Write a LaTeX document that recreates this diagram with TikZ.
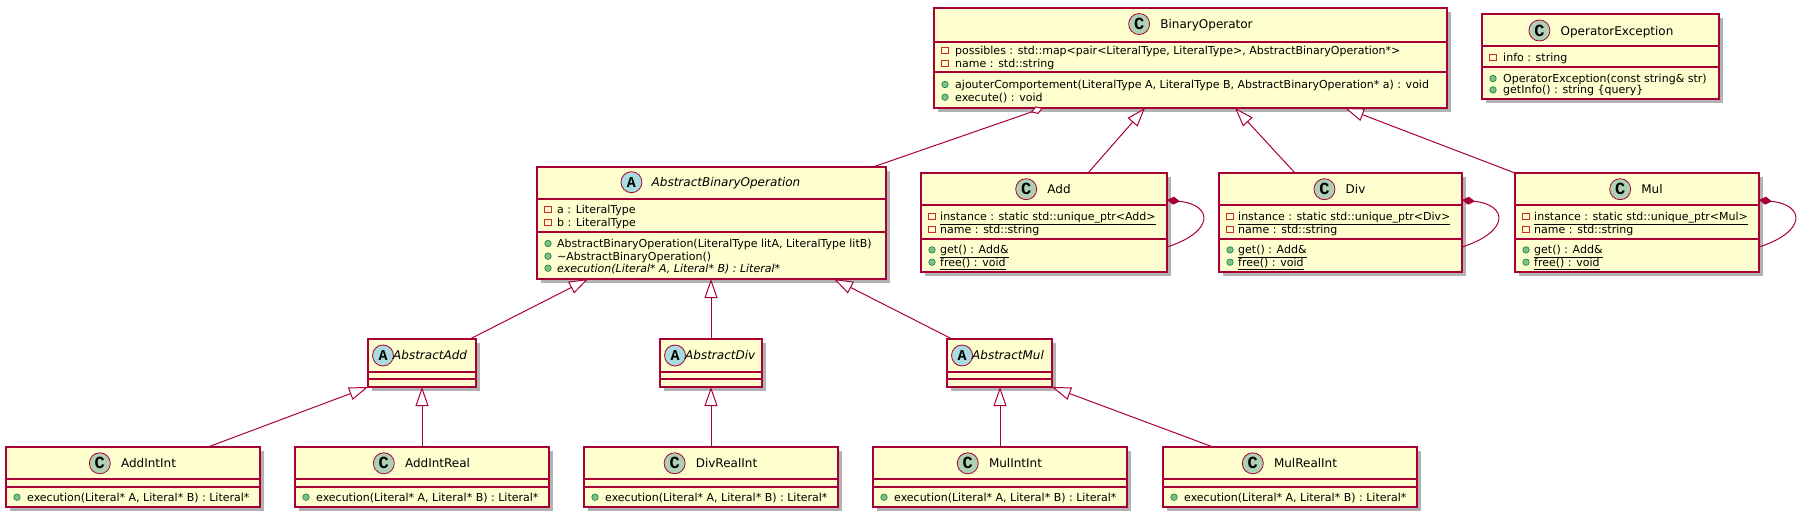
\documentclass[tikz,border=0pt]{standalone}
\usepackage{fontspec}
\setmainfont{DejaVu Sans}
\newfontfamily\spotfont{Liberation Mono}
\usepackage{tikz}
\usetikzlibrary{arrows.meta,shadows}
\definecolor{umlfill}{HTML}{FEFECE}
\definecolor{umlred}{HTML}{A80036}
\definecolor{umlcls}{HTML}{ADD1B2}
\definecolor{umlabs}{HTML}{A9DCDF}
\definecolor{umlpriv}{HTML}{C82930}
\definecolor{umlpub}{HTML}{84BE84}
\definecolor{umlpubline}{HTML}{038048}

\begin{document}
\begin{tikzpicture}[x=1pt,y=-1pt,
	cls/.style={rectangle,draw=umlred,fill=umlfill,line width=1.5pt,inner sep=0pt,outer sep=0pt,
		drop shadow={shadow xshift=4pt,shadow yshift=-4pt,opacity=0.3,fill=black}},
	sep/.style={draw=umlred,line width=1.5pt},
	ttl/.style={font=\fontsize{12}{14}\selectfont,inner sep=0pt,anchor=base},
	ittl/.style={font=\fontsize{12}{14}\selectfont\itshape,inner sep=0pt,anchor=base},
	mem/.style={font=\fontsize{11}{13}\selectfont,inner sep=0pt,anchor=base west},
	ccls/.style={circle,draw=umlred,fill=umlcls,line width=0.8pt,minimum size=21pt,inner sep=0pt,
		font=\spotfont\bfseries\fontsize{17}{17}\selectfont},
	cabs/.style={ccls,fill=umlabs,font=\spotfont\bfseries\fontsize{15}{15}\selectfont},
	priv/.style={rectangle,draw=umlpriv,line width=0.8pt,minimum size=6.5pt,inner sep=0pt},
	pub/.style={circle,draw=umlpubline,fill=umlpub,line width=0.6pt,minimum size=6.5pt,inner sep=0pt},
	inh/.style={draw=umlred,line width=1pt,-{Triangle[length=19pt,width=13pt,fill=white]}},
	agg/.style={draw=umlred,line width=1pt,-{Diamond[length=13pt,width=8pt,fill=white]}},
	comp/.style={draw=umlred,line width=1pt,-{Diamond[length=13pt,width=8pt,fill=umlred]}}]
	\useasboundingbox (0,0) rectangle (1804,517);
	%% BinaryOperator
	\node[cls,minimum width=513pt,minimum height=100pt] (bo) at (1190.5,58) {};
	\draw[sep] (bo.west |- 0,42) -- (bo.east |- 0,42);
	\draw[sep] (bo.west |- 0,72) -- (bo.east |- 0,72);
	\node[ttl] (bo-t) at (1206.5,28.5) {BinaryOperator};
	\node[ccls] (bo-c) at ([xshift=-21pt,yshift=4.5pt]bo-t.base west) {C};
	\node[mem] (bo-a1) at (955,54) {possibles : std::map<pair<LiteralType, LiteralType>, AbstractBinaryOperation*>};
	\node[mem] (bo-a2) at (955,67) {name : std::string};
	\node[mem] (bo-m1) at (955,88.3) {ajouterComportement(LiteralType A, LiteralType B, AbstractBinaryOperation* a) : void};
	\node[mem] (bo-m2) at (955,101) {execute() : void};
	\foreach \n in {a1,a2} \node[priv] (bo-i\n) at ([xshift=-10pt,yshift=3.8pt]bo-\n.base west) {};
	\foreach \n in {m1,m2} \node[pub] (bo-i\n) at ([xshift=-10pt,yshift=3.8pt]bo-\n.base west) {};
	%% OperatorException
	\node[cls,minimum width=237pt,minimum height=85pt] (oe) at (1600.5,56.5) {};
	\draw[sep] (oe.west |- 0,46) -- (oe.east |- 0,46);
	\draw[sep] (oe.west |- 0,67) -- (oe.east |- 0,67);
	\node[ttl] (oe-t) at (1617,35) {OperatorException};
	\node[ccls] (oe-c) at ([xshift=-21pt,yshift=4.5pt]oe-t.base west) {C};
	\node[mem] (oe-a1) at (1503,61) {info : string};
	\node[mem] (oe-m1) at (1503,82.3) {OperatorException(const string\& str)};
	\node[mem] (oe-m2) at (1503,93.7) {getInfo() : string \{query\}};
	\node[priv] (oe-ia1) at ([xshift=-10pt,yshift=3.8pt]oe-a1.base west) {};
	\foreach \n in {m1,m2} \node[pub] (oe-i\n) at ([xshift=-10pt,yshift=3.8pt]oe-\n.base west) {};
	%% AbstractBinaryOperation
	\node[cls,minimum width=349pt,minimum height=112pt] (abo) at (711.5,223) {};
	\draw[sep] (abo.west |- 0,199) -- (abo.east |- 0,199);
	\draw[sep] (abo.west |- 0,232) -- (abo.east |- 0,232);
	\node[ittl] (abo-t) at (726,186.7) {AbstractBinaryOperation};
	\node[cabs] (abo-c) at ([xshift=-20pt,yshift=4.5pt]abo-t.base west) {A};
	\node[mem] (abo-a1) at (557,213.3) {a : LiteralType};
	\node[mem] (abo-a2) at (557,226) {b : LiteralType};
	\node[mem] (abo-m1) at (557,247.3) {AbstractBinaryOperation(LiteralType litA, LiteralType litB)};
	\node[mem] (abo-m2) at (557,260) {\textasciitilde AbstractBinaryOperation()};
	\node[mem] (abo-m3) at (557,272) {\itshape execution(Literal* A, Literal* B) : Literal*};
	\foreach \n in {a1,a2} \node[priv] (abo-i\n) at ([xshift=-9pt,yshift=3.8pt]abo-\n.base west) {};
	\foreach \n in {m1,m2,m3} \node[pub] (abo-i\n) at ([xshift=-9pt,yshift=3.8pt]abo-\n.base west) {};
	%% singletons
	\foreach \nm/\cx/\w/\ttl in {add/1044/246/Add, div/1340.5/243/Div, mul/1637/244/Mul} {
		\node[cls,minimum width=\w pt,minimum height=99pt] (\nm) at (\cx,222.5) {};
		\draw[sep] (\nm.west |- 0,205) -- (\nm.east |- 0,205);
		\draw[sep] (\nm.west |- 0,239) -- (\nm.east |- 0,239);
		\node[ttl] (\nm-t) at (\cx+15,193.7) {\ttl};
		\node[ccls] (\nm-c) at ([xshift=-21pt,yshift=4.5pt]\nm-t.base west) {C};
		\node[mem] (\nm-a1) at (\cx-\w/2+19,220.3) {\underline{instance : static std::unique\_ptr<\ttl>}};
		\node[mem] (\nm-a2) at (\cx-\w/2+19,233) {name : std::string};
		\node[mem] (\nm-m1) at (\cx-\w/2+19,253.7) {\underline{get() : Add\&}};
		\node[mem] (\nm-m2) at (\cx-\w/2+19,266) {\underline{free() : void}};
		\node[priv] (\nm-ia1) at ([xshift=-8pt,yshift=3.8pt]\nm-a1.base west) {};
		\node[priv] (\nm-ia2) at ([xshift=-8pt,yshift=3.8pt]\nm-a2.base west) {};
		\node[pub] (\nm-im1) at ([xshift=-8pt,yshift=3.8pt]\nm-m1.base west) {};
		\node[pub] (\nm-im2) at ([xshift=-8pt,yshift=3.8pt]\nm-m2.base west) {};
		\draw[comp] ([yshift=-24.5pt]\nm.east) .. controls +(47pt,15pt) and +(47pt,-5pt) .. ([yshift=22.5pt]\nm.east);
	}
	%% abstract operations
	\foreach \nm/\cx/\w/\ttl in {aadd/422/108/AbstractAdd, adiv/711/102/AbstractDiv, amul/999.5/105/AbstractMul} {
		\node[cls,minimum width=\w pt,minimum height=48pt] (\nm) at (\cx,363) {};
		\draw[sep] (\nm.west |- 0,372) -- (\nm.east |- 0,372);
		\draw[sep] (\nm.west |- 0,379) -- (\nm.east |- 0,379);
		\node[cabs] (\nm-c) at (\cx-\w/2+15,355.5) {A};
		\node[ittl,anchor=base west] (\nm-t) at (\cx-\w/2+25,359) {\ttl};
	}
	%% concrete operations
	\foreach \nm/\cx/\ttl in {aii/133/AddIntInt, air/422/AddIntReal, dri/711/DivRealInt, mii/1000/MulIntInt, mri/1290/MulRealInt} {
		\node[cls,minimum width=254pt,minimum height=60pt] (\nm) at (\cx,477) {};
		\draw[sep] (\nm.west |- 0,479) -- (\nm.east |- 0,479);
		\draw[sep] (\nm.west |- 0,487) -- (\nm.east |- 0,487);
		\node[ttl] (\nm-t) at (\cx+15.5,467.3) {\ttl};
		\node[ccls] (\nm-c) at ([xshift=-21pt,yshift=4pt]\nm-t.base west) {C};
		\node[mem] (\nm-m) at (\cx-106,501) {execution(Literal* A, Literal* B) : Literal*};
		\node[pub] (\nm-i) at ([xshift=-10pt,yshift=3.8pt]\nm-m.base west) {};
	}
	%% relations
	\draw[agg] ([xshift=161.5pt]abo.north) -- ([xshift=-147.5pt]bo.south);
	\draw[inh] ([xshift=44pt]add.north) -- ([xshift=-45.5pt]bo.south);
	\draw[inh] ([xshift=-45.5pt]div.north) -- ([xshift=44.5pt]bo.south);
	\draw[inh] (mul.north west) -- ([xshift=154.5pt]bo.south);
	\draw[inh] ([xshift=48pt]aadd.north) -- ([xshift=-123.5pt]abo.south);
	\draw[inh] (adiv.north) -- (adiv.north |- abo.south);
	\draw[inh] ([xshift=-47.5pt]amul.north) -- ([xshift=122.5pt]abo.south);
	\draw[inh] ([xshift=75pt]aii.north) -- (aadd.south west);
	\draw[inh] (air.north) -- (air.north |- aadd.south);
	\draw[inh] (dri.north) -- (dri.north |- adiv.south);
	\draw[inh] (mii.north) -- (mii.north |- amul.south);
	\draw[inh] ([xshift=-77pt]mri.north) -- (amul.south east);
\end{tikzpicture}
\end{document}
